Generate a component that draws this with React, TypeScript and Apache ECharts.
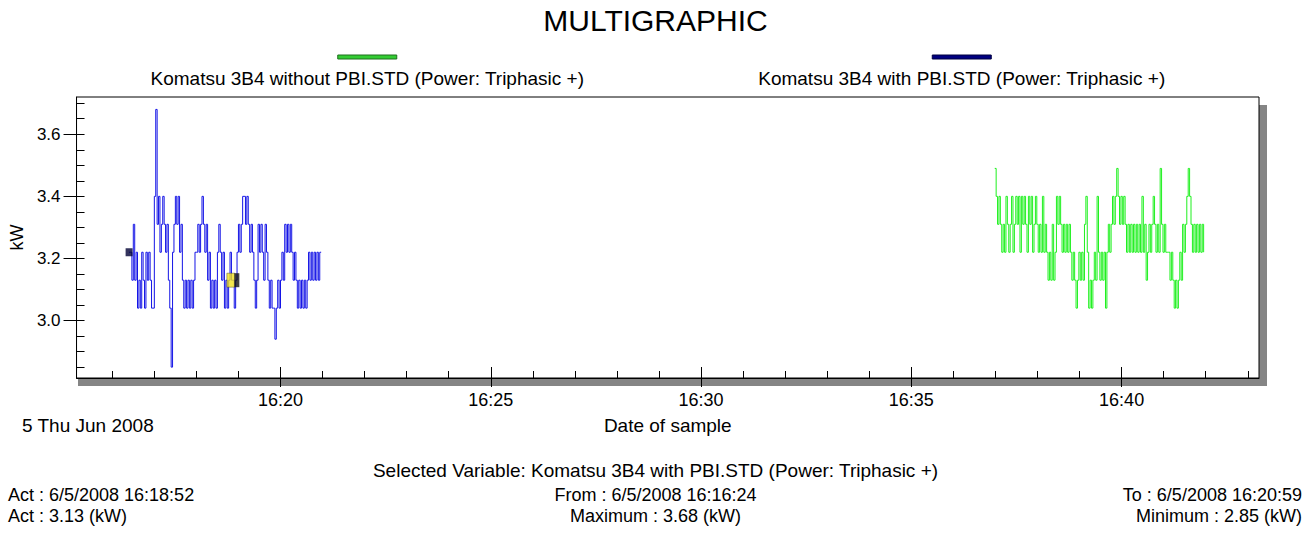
import React, { useEffect, useRef } from "react";
import * as echarts from "echarts";

// ---------- data ----------
const BLUE_START = "16:16:24";
const GREEN_START = "16:36:59";
const SAMPLE_STEP_S = 2;

// Komatsu 3B4 with PBI.STD (kW), one value every 2 s from 16:16:24
const blueValues = [
  3.22, 3.22, 3.13, 3.31, 3.13, 3.22, 3.04, 3.13, 3.04, 3.22,
  3.13, 3.04, 3.22, 3.13, 3.22, 3.13, 3.04, 3.04, 3.40, 3.68,
  3.31, 3.40, 3.22, 3.31, 3.40, 3.31, 3.22, 3.31, 3.13, 3.04,
  2.85, 3.22, 3.31, 3.40, 3.31, 3.40, 3.22, 3.31, 3.13, 3.04,
  3.13, 3.04, 3.13, 3.04, 3.13, 3.04, 3.13, 3.22, 3.22, 3.31,
  3.22, 3.31, 3.40, 3.31, 3.22, 3.31, 3.13, 3.22, 3.04, 3.13,
  3.04, 3.13, 3.04, 3.22, 3.31, 3.22, 3.13, 3.22, 3.04, 3.13,
  3.04, 3.13, 3.22, 3.13, 3.13, 3.04, 3.13, 3.22, 3.31, 3.22,
  3.31, 3.40, 3.40, 3.31, 3.40, 3.31, 3.22, 3.31, 3.22, 3.13,
  3.04, 3.13, 3.31, 3.22, 3.31, 3.22, 3.13, 3.31, 3.22, 3.13,
  3.04, 3.13, 3.04, 3.04, 2.94, 3.04, 3.13, 3.04, 3.13, 3.22,
  3.13, 3.31, 3.22, 3.31, 3.22, 3.31, 3.22, 3.13, 3.22, 3.13,
  3.04, 3.13, 3.04, 3.13, 3.04, 3.13, 3.04, 3.13, 3.22, 3.13,
  3.22, 3.13, 3.22, 3.13, 3.22, 3.13, 3.22, 3.22,
];

// Komatsu 3B4 without PBI.STD (kW), one value every 2 s from 16:36:59
const greenValues = [
  3.49, 3.40, 3.31, 3.40, 3.31, 3.22, 3.31, 3.22, 3.40, 3.31,
  3.22, 3.31, 3.40, 3.22, 3.31, 3.40, 3.31, 3.40, 3.22, 3.40,
  3.31, 3.40, 3.31, 3.22, 3.40, 3.31, 3.40, 3.22, 3.31, 3.40,
  3.31, 3.22, 3.31, 3.22, 3.40, 3.22, 3.31, 3.22, 3.13, 3.22,
  3.13, 3.31, 3.13, 3.22, 3.40, 3.31, 3.40, 3.31, 3.22, 3.31,
  3.22, 3.31, 3.22, 3.31, 3.22, 3.13, 3.22, 3.13, 3.04, 3.13,
  3.22, 3.13, 3.22, 3.13, 3.31, 3.40, 3.22, 3.04, 3.13, 3.04,
  3.13, 3.22, 3.13, 3.40, 3.22, 3.13, 3.22, 3.13, 3.22, 3.04,
  3.22, 3.31, 3.22, 3.31, 3.40, 3.31, 3.40, 3.49, 3.40, 3.31,
  3.40, 3.31, 3.40, 3.31, 3.22, 3.31, 3.22, 3.31, 3.22, 3.31,
  3.22, 3.31, 3.22, 3.31, 3.22, 3.40, 3.22, 3.31, 3.13, 3.22,
  3.31, 3.22, 3.31, 3.40, 3.31, 3.22, 3.31, 3.22, 3.49, 3.31,
  3.22, 3.31, 3.22, 3.22, 3.22, 3.13, 3.22, 3.13, 3.04, 3.13,
  3.04, 3.13, 3.22, 3.13, 3.31, 3.22, 3.31, 3.40, 3.49, 3.40,
  3.31, 3.22, 3.31, 3.22, 3.31, 3.22, 3.31, 3.22, 3.31, 3.22,
];

const startMarker: [string, number][] = [["16:16:24", 3.22]];
const cursorMarker: [string, number][] = [["16:18:52", 3.13]];

const xRange = ["16:15:09", "16:43:16"];
const yRange = [2.815, 3.72];
const xMajorTicks = ["16:20", "16:25", "16:30", "16:35", "16:40"];
const xMinorTicks = [
  "16:16", "16:17", "16:18", "16:19", "16:21", "16:22", "16:23", "16:24",
  "16:26", "16:27", "16:28", "16:29", "16:31", "16:32", "16:33", "16:34",
  "16:36", "16:37", "16:38", "16:39", "16:41", "16:42", "16:43",
];
const yMajorTicks = [3.0, 3.2, 3.4, 3.6];
const yMinorTicks = [
  2.85, 2.9, 2.95, 3.0, 3.05, 3.1, 3.15, 3.2, 3.25, 3.3, 3.35, 3.4, 3.45,
  3.5, 3.55, 3.6, 3.65, 3.7,
];

const legendItems = [
  { name: "Komatsu 3B4 without PBI.STD (Power: Triphasic +)", color: "#33cc33", border: "#1f6f1f" },
  { name: "Komatsu 3B4 with PBI.STD (Power: Triphasic +)", color: "#000080", border: "#000040" },
];

const infoLeft = ["Act : 6/5/2008 16:18:52", "Act : 3.13 (kW)"];
const infoCenter = ["From : 6/5/2008 16:16:24", "Maximum : 3.68 (kW)"];
const infoRight = ["To : 6/5/2008 16:20:59", "Minimum : 2.85 (kW)"];
const selectedText = "Selected Variable: Komatsu 3B4 with PBI.STD (Power: Triphasic +)";
const dateText = "5 Thu Jun 2008";

// ---------- helpers ----------
const toSec = (s: string) => {
  const p = s.split(":").map(Number);
  return p[0] * 3600 + p[1] * 60 + (p[2] || 0);
};
const fmtHM = (v: number) => {
  const h = Math.floor(v / 3600);
  const m = Math.round((v - h * 3600) / 60);
  return `${h}:${String(m).padStart(2, "0")}`;
};

const FONT = "'Liberation Sans', Arial, sans-serif";

export default function App() {
  const ref = useRef<HTMLDivElement>(null);

  useEffect(() => {
    if (!ref.current) return;
    const chart = echarts.init(ref.current, undefined, { renderer: "svg" });

    const W = 1311;
    const gridL = 70, gridT = 97, gridW = 1189, gridH = 281;
    const xMin = toSec(xRange[0]);
    const xMax = toSec(xRange[1]);
    const blueStart = toSec(BLUE_START);
    const greenStart = toSec(GREEN_START);
    const blueData = blueValues.map((v, i) => [blueStart + i * SAMPLE_STEP_S, v]);
    const greenData = greenValues.map((v, i) => [greenStart + i * SAMPLE_STEP_S, v]);
    const majorX = xMajorTicks.map(toSec);
    const minorX = xMinorTicks.map(toSec);

    const baseX = {
      type: "value",
      min: xMin,
      max: xMax,
      position: "bottom",
      offset: 0,
      splitLine: { show: false },
      axisLabel: { show: false },
      axisLine: { show: false },
    };
    const baseY = {
      type: "value",
      min: yRange[0],
      max: yRange[1],
      position: "left",
      offset: 0,
      splitLine: { show: false },
      axisLabel: { show: false },
      axisLine: { show: false },
    };
    const tickStyle = { color: "#000", width: 1 };

    const textEl = (text: string, x: number, y: number, align: string, size = 16) => ({
      type: "text",
      x,
      y,
      silent: true,
      style: {
        text,
        fill: "#000",
        font: `${size}px ${FONT}`,
        textAlign: align,
        textVerticalAlign: "middle",
      },
    });

    const graphics: any[] = [
      {
        type: "rect",
        z: -10,
        silent: true,
        shape: { x: gridL + gridW, y: gridT + 8, width: 8, height: gridH },
        style: { fill: "#858585" },
      },
      {
        type: "rect",
        z: -10,
        silent: true,
        shape: { x: gridL + 8, y: gridT + gridH, width: gridW, height: 8 },
        style: { fill: "#858585" },
      },
    ];
    legendItems.forEach((it, i) => {
      const cx = gridL + (gridW * (2 * i + 1)) / 4;
      graphics.push({
        type: "rect",
        silent: true,
        shape: { x: cx - 29.5, y: 55, width: 59, height: 4 },
        style: { fill: it.color, stroke: it.border, lineWidth: 1 },
      });
      graphics.push(textEl(it.name, cx, 78, "center", 19));
    });
    graphics.push(textEl(dateText, 22, 425, "left", 19));
    graphics.push(textEl(selectedText, W / 2, 470, "center", 19));
    infoLeft.forEach((t, i) => graphics.push(textEl(t, 8, 495 + i * 21, "left", 18)));
    infoCenter.forEach((t, i) => graphics.push(textEl(t, W / 2, 495 + i * 21, "center", 18)));
    infoRight.forEach((t, i) => graphics.push(textEl(t, W - 9, 495 + i * 21, "right", 18)));

    chart.setOption({
      animation: false,
      backgroundColor: "#fff",
      title: {
        text: "MULTIGRAPHIC",
        left: "center",
        top: 0,
        textStyle: { fontSize: 30, fontWeight: "normal", color: "#000", fontFamily: FONT },
      },
      grid: {
        left: gridL,
        top: gridT,
        width: gridW,
        height: gridH,
        show: true,
        backgroundColor: "#fff",
        borderColor: "#000",
        borderWidth: 1,
        containLabel: false,
      },
      xAxis: [
        {
          ...baseX,
          axisLine: { show: true, lineStyle: { color: "#000", width: 1 } },
          axisTick: { show: true, customValues: majorX, inside: false, length: 9, lineStyle: tickStyle },
          axisLabel: {
            show: true,
            customValues: majorX,
            formatter: (v: number) => fmtHM(v),
            margin: 13,
            fontSize: 18,
            color: "#000",
            fontFamily: FONT,
          },
          name: "Date of sample",
          nameLocation: "middle",
          nameGap: 38,
          nameTextStyle: { fontSize: 19, color: "#000", fontFamily: FONT },
        },
        {
          ...baseX,
          axisTick: { show: true, customValues: majorX, inside: true, length: 11, lineStyle: tickStyle },
        },
        {
          ...baseX,
          axisTick: { show: true, customValues: minorX, inside: true, length: 7, lineStyle: tickStyle },
        },
      ],
      yAxis: [
        {
          ...baseY,
          axisLine: { show: true, lineStyle: { color: "#000", width: 1 } },
          axisTick: { show: true, customValues: yMajorTicks, inside: false, length: 13, lineStyle: tickStyle },
          axisLabel: {
            show: true,
            customValues: yMajorTicks,
            formatter: (v: number) => v.toFixed(1),
            margin: 16,
            fontSize: 17,
            color: "#000",
            fontFamily: FONT,
          },
          name: "kW",
          nameLocation: "middle",
          nameRotate: 90,
          nameGap: 48,
          nameTextStyle: { fontSize: 18, color: "#000", fontFamily: FONT },
        },
        {
          ...baseY,
          axisTick: { show: true, customValues: yMinorTicks, inside: true, length: 8, lineStyle: tickStyle },
        },
      ],
      series: [
        {
          name: "with",
          type: "line",
          step: "end",
          xAxisIndex: 0,
          yAxisIndex: 0,
          data: blueData,
          showSymbol: false,
          lineStyle: { color: "#1414e6", width: 1 },
          itemStyle: { color: "#1414e6" },
          z: 3,
        },
        {
          name: "without",
          type: "line",
          step: "end",
          xAxisIndex: 0,
          yAxisIndex: 0,
          data: greenData,
          showSymbol: false,
          lineStyle: { color: "#1ef01e", width: 1 },
          itemStyle: { color: "#1ef01e" },
          z: 3,
        },
        {
          type: "scatter",
          data: startMarker.map(([t, v]) => [toSec(t), v]),
          symbol: "rect",
          symbolSize: [7, 8],
          itemStyle: { color: "#000033" },
          z: 5,
        },
        {
          type: "scatter",
          data: cursorMarker.map(([t, v]) => [toSec(t), v]),
          symbol: "rect",
          symbolSize: [8, 14],
          symbolOffset: [-2, 0],
          itemStyle: { color: "#f0e020", borderColor: "#333", borderWidth: 0.5 },
          z: 5,
        },
        {
          type: "scatter",
          data: cursorMarker.map(([t, v]) => [toSec(t), v]),
          symbol: "rect",
          symbolSize: [5, 14],
          symbolOffset: [4, 0],
          itemStyle: { color: "#111" },
          z: 5,
        },
      ],
      graphic: graphics,
    });

    return () => chart.dispose();
  }, []);

  return (
    <div
      ref={ref}
      style={{ position: "fixed", left: 0, top: 0, width: 1311, height: 534, background: "#fff" }}
    />
  );
}
